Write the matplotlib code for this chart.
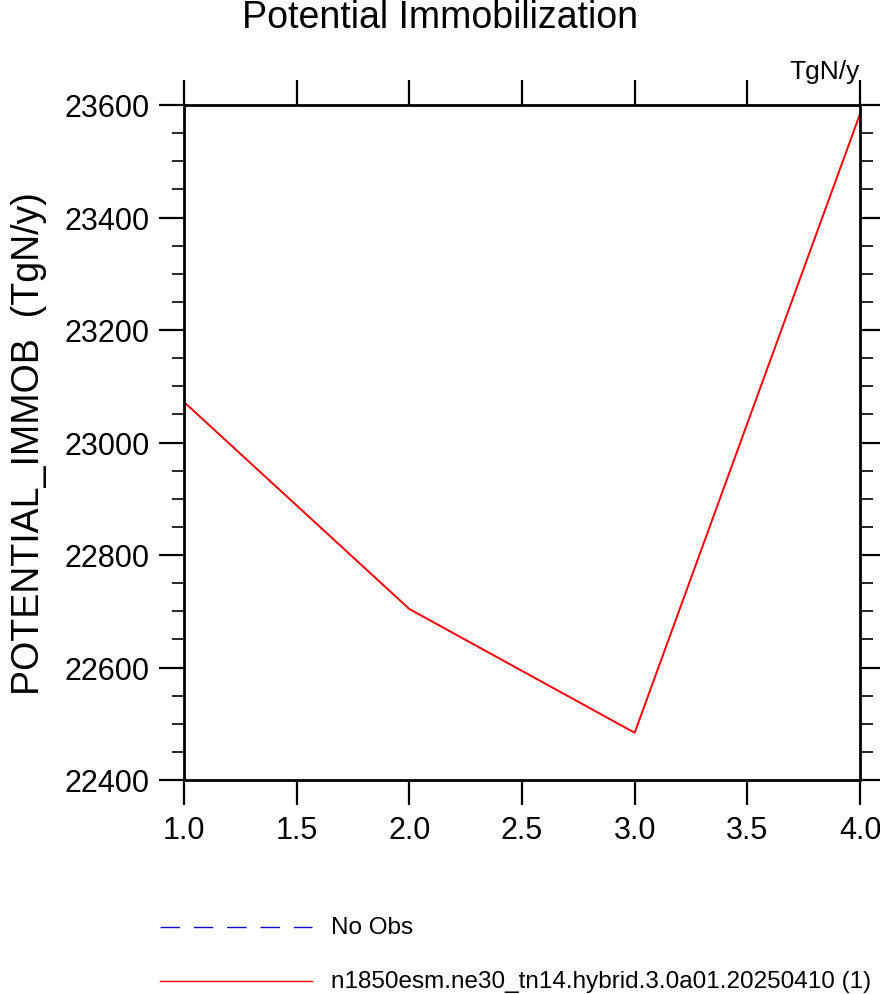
import matplotlib
matplotlib.use("Agg")
import matplotlib.pyplot as plt
from matplotlib.lines import Line2D
from matplotlib.ticker import MultipleLocator

plt.rcParams['font.family'] = ['Liberation Sans', 'DejaVu Sans']

# data
years = [1, 2, 3, 4]
immob = [23072, 22704, 22484, 23584]
labels = ["No Obs", "n1850esm.ne30_tn14.hybrid.3.0a01.20250410 (1)"]

fig = plt.figure(figsize=(8.8, 9.95), dpi=100)
ax = fig.add_axes([184 / 880, 1 - 781 / 995, 676 / 880, 675 / 995])

ax.plot(years, immob, color='red', lw=1.4)

ax.set_xlim(1, 4)
ax.set_ylim(22400, 23600)
ax.xaxis.set_major_locator(MultipleLocator(0.5))
ax.yaxis.set_major_locator(MultipleLocator(200))
ax.yaxis.set_minor_locator(MultipleLocator(50))
ax.xaxis.set_major_formatter(plt.FormatStrFormatter('%.1f'))

for s in ax.spines.values():
    s.set_linewidth(2)
ax.tick_params(which='major', direction='out', length=18, width=1.6,
               labelsize=22, top=True, right=True, pad=7)
ax.tick_params(which='minor', direction='out', length=9, width=1.2,
               right=True)
ax.tick_params(axis='x', which='minor', bottom=False, top=False)

ax.set_ylabel("POTENTIAL_IMMOB  (TgN/y)", fontsize=27, labelpad=12)
fig.text(0.5, 1 - 18 / 995, "Potential Immobilization", ha='center',
         va='center', fontsize=27)
fig.text(860 / 880, 1 - 72 / 995, "TgN/y", ha='right', va='center',
         fontsize=19)

# legend drawn below plot
styles = [dict(color='#1010c0', dashes=(14, 10), lw=1.0),
          dict(color='red', ls='-', lw=1.0)]
ys = [928, 982]
for lab, st, yy in zip(labels, styles, ys):
    fy = 1 - yy / 995
    fig.add_artist(Line2D([160 / 880, 312 / 880], [fy, fy],
                          transform=fig.transFigure, **st))
    fig.text(331 / 880, fy, lab, ha='left', va='center', fontsize=17.5)

fig.savefig("out.png", dpi=100)
